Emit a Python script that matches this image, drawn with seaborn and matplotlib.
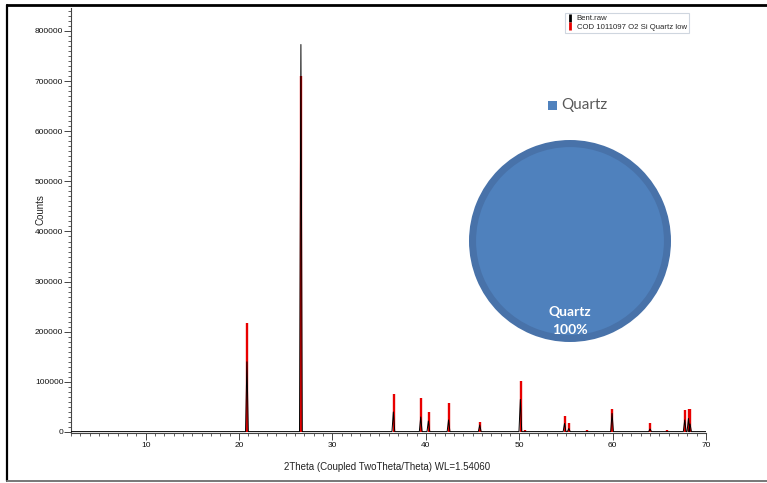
import numpy as np
import pandas as pd
import seaborn as sns
import matplotlib.pyplot as plt
from matplotlib.lines import Line2D
from matplotlib.patches import Rectangle
from matplotlib.ticker import MultipleLocator, FixedLocator

# Measured pattern (Bent.raw): peak positions (2theta) and peak counts
raw_peak_2theta = [20.84, 26.62, 36.52, 39.45, 40.27, 42.43, 45.77, 50.12,
                   54.85, 55.31, 59.94, 64.01, 67.72, 68.12, 68.29]
raw_peak_counts = [140000, 773000, 40000, 30000, 22000, 24000, 14000, 65000,
                   17000, 7000, 37000, 6000, 24000, 27000, 16000]
raw_background = 800

# Reference pattern (COD 1011097, quartz low): stick positions and intensities
ref_2theta = [20.86, 26.64, 36.54, 39.47, 40.29, 42.45, 45.79, 50.14, 50.62,
              54.87, 55.33, 57.24, 59.96, 64.03, 65.79, 67.74, 68.14, 68.31]
ref_counts = [217000, 711000, 75000, 67000, 40500, 58500, 20500, 102000, 4000,
              32000, 17000, 3000, 46000, 17000, 3000, 44000, 46000, 46500]

# Phase composition
phase_names = ["Quartz"]
phase_percent = [100]

x_ticks = [10, 20, 30, 40, 50, 60, 70]
y_ticks = [0, 100000, 200000, 300000, 400000, 500000, 600000, 700000, 800000]

legend_labels = ["Bent.raw", "COD 1011097 O2 Si Quartz low"]
x_title = "2Theta (Coupled TwoTheta/Theta) WL=1.54060"
y_title = "Counts"

# Build the measured trace as a polyline from the peak list
half_width = 0.15
trace_x = [2.0]
trace_y = [raw_background]
for p, h in zip(raw_peak_2theta, raw_peak_counts):
    trace_x += [p - half_width, p, p + half_width]
    trace_y += [raw_background, h, raw_background]
trace_x.append(70.0)
trace_y.append(raw_background)
raw_df = pd.DataFrame({"two_theta": trace_x, "counts": trace_y})

sns.set_theme(style="white")
plt.rcParams["font.family"] = ["Liberation Sans", "DejaVu Sans"]

W, H = 767, 483
fig = plt.figure(figsize=(W / 100, H / 100), dpi=100)
fig.patch.set_facecolor("white")

# Main diffractogram axes (pixel box 71..706 x 8..433)
ax = fig.add_axes([71 / W, 1 - 433 / H, (706 - 71) / W, (433 - 8) / H])
ax.vlines(ref_2theta, 0, ref_counts, color="#e80000", linewidth=1.7, zorder=2)
sns.lineplot(data=raw_df, x="two_theta", y="counts", sort=False, estimator=None,
             color="black", linewidth=0.7, ax=ax, zorder=3)

ax.set_xlim(2.0, 70.0)
ax.set_ylim(-1995, 845800)
for s in ["top", "right"]:
    ax.spines[s].set_visible(False)
for s in ["left", "bottom"]:
    ax.spines[s].set_color("#444444")
    ax.spines[s].set_linewidth(0.8)

ax.xaxis.set_major_locator(FixedLocator(x_ticks))
ax.xaxis.set_minor_locator(MultipleLocator(1))
ax.yaxis.set_major_locator(FixedLocator(y_ticks))
ax.yaxis.set_minor_locator(MultipleLocator(10000))
ax.set_xticklabels([str(v) for v in x_ticks])
ax.set_yticklabels([str(v) for v in y_ticks])
ax.tick_params(axis="both", which="major", direction="out", length=5, width=0.7,
               color="#444444", labelsize=6, labelcolor="#111111", pad=1.5)
ax.tick_params(axis="both", which="minor", direction="out", length=2.2, width=0.6,
               color="#444444")
ax.tick_params(axis="y", which="major", pad=0.5)
ax.yaxis.set_ticks_position("left")
ax.xaxis.set_ticks_position("bottom")

ax.set_xlabel(x_title, fontsize=7, color="#222222")
ax.xaxis.set_label_coords((387 - 71) / (706 - 71), -(467 - 433) / (433 - 8))
ax.xaxis.label.set_va("center")
ax.set_ylabel(y_title, fontsize=7, color="#222222")
ax.yaxis.set_label_coords(-(71 - 40) / (706 - 71), (433 - 210) / (433 - 8))
ax.yaxis.label.set_va("center")

handles = [Line2D([], [], linestyle="none", marker="|", markersize=6,
                  markeredgewidth=2, color=c) for c in ["black", "#e80000"]]
leg = ax.legend(handles, legend_labels, loc="upper left",
                bbox_to_anchor=(565 / W, 1 - 12.5 / H),
                bbox_transform=fig.transFigure, fontsize=5.6, frameon=True,
                fancybox=False, borderpad=0.3, labelspacing=0.15,
                handlelength=0.8, handletextpad=0.4, borderaxespad=0)
leg.get_frame().set_edgecolor("#c4ccd8")
leg.get_frame().set_linewidth(0.8)

# Phase pie chart
cx, cy, r = 570, 241, 101
pax = fig.add_axes([(cx - r) / W, 1 - (cy + r) / H, 2 * r / W, 2 * r / H])
pax.pie(phase_percent, colors=["#4872a9"], radius=1.0, startangle=90,
        wedgeprops=dict(linewidth=0, edgecolor="none"))
pax.pie(phase_percent, colors=["#4f81bd"], radius=0.93, startangle=90,
        wedgeprops=dict(linewidth=0, edgecolor="none"))
pax.set_xlim(-1, 1)
pax.set_ylim(-1, 1)
pax.set_aspect("auto")
pax.axis("off")

fig.text(cx / W, 1 - 312 / H, phase_names[0], ha="center", va="center",
         color="white", fontsize=10, fontweight="bold", family=["Lato", "DejaVu Sans"])
fig.text(cx / W, 1 - 330 / H, f"{phase_percent[0]}%", ha="center", va="center",
         color="white", fontsize=10, fontweight="bold", family=["Lato", "DejaVu Sans"])

# Pie legend
fig.add_artist(Rectangle((548 / W, 1 - 109.5 / H), 8.5 / W, 8.5 / H,
                         transform=fig.transFigure, facecolor="#4f81bd",
                         edgecolor="none"))
fig.text(561 / W, 1 - 105 / H, phase_names[0], ha="left", va="center",
         color="#595959", fontsize=11, family=["Lato", "DejaVu Sans"])

# Page frame
fig.add_artist(Line2D([7 / W, 1.0], [1 - 5 / H, 1 - 5 / H], transform=fig.transFigure,
                      color="black", linewidth=2.0))
fig.add_artist(Line2D([7 / W, 7 / W], [1 - 5 / H, 1 - 481 / H], transform=fig.transFigure,
                      color="black", linewidth=1.6))
fig.add_artist(Line2D([7 / W, 1.0], [1 - 481 / H, 1 - 481 / H], transform=fig.transFigure,
                      color="#777777", linewidth=1.4))

fig.savefig("out.png", dpi=100)
